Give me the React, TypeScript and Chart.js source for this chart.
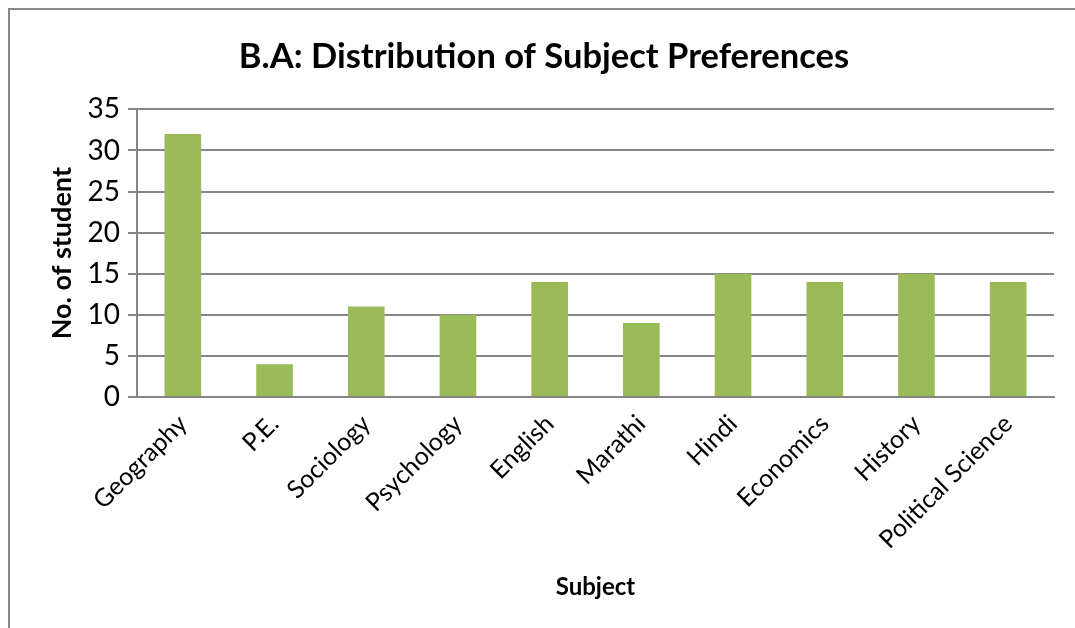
import React, { useEffect, useRef } from "react";
import { Chart, registerables } from "chart.js";

Chart.register(...registerables);

const categories = ["Geography", "P.E.", "Sociology", "Psychology", "English", "Marathi", "Hindi", "Economics", "History", "Political Science"];
const students = [32, 4, 11, 10, 14, 9, 15, 14, 15, 14];
const yTicks = [0, 5, 10, 15, 20, 25, 30, 35];

const chartTitle = "B.A: Distribution of Subject Preferences";
const xTitle = "Subject";
const yTitle = "No. of student";

const FONT = "Lato, 'Open Sans', sans-serif";

export default function App() {
  const canvasRef = useRef<HTMLCanvasElement | null>(null);

  useEffect(() => {
    if (!canvasRef.current) return;
    const chart = new Chart(canvasRef.current, {
      type: "bar",
      data: {
        labels: categories,
        datasets: [
          {
            label: "No. of student",
            data: students,
            backgroundColor: "#9BBB59",
            borderWidth: 0,
            barPercentage: 0.4,
            categoryPercentage: 1,
          },
        ],
      },
      options: {
        animation: false,
        responsive: true,
        maintainAspectRatio: false,
        layout: { padding: { left: 34, right: 21, top: 0, bottom: 0 } },
        plugins: {
          legend: { display: false },
          tooltip: { enabled: false },
          title: {
            display: true,
            text: chartTitle,
            color: "#000",
            font: { family: FONT, size: 34.5, weight: "bold" },
            padding: { top: 36, bottom: 32 },
          },
        },
        scales: {
          x: {
            grid: { display: false, drawTicks: false },
            border: { display: true, color: "#868686", width: 2 },
            ticks: {
              color: "#000",
              font: { family: FONT, size: 25 },
              minRotation: 45,
              maxRotation: 45,
              autoSkip: false,
              padding: 12,
            },
            title: {
              display: true,
              text: xTitle,
              color: "#000",
              font: { family: FONT, size: 24, weight: "bold" },
              padding: { top: 0, bottom: 26 },
            },
            afterFit: (scale: any) => {
              scale.height = 231;
            },
          },
          y: {
            min: 0,
            max: 35,
            afterBuildTicks: (scale: any) => {
              scale.ticks = yTicks.map((v) => ({ value: v }));
            },
            grid: { color: "#868686", lineWidth: 2, tickLength: 9, drawTicks: true },
            border: { display: true, color: "#868686", width: 2 },
            ticks: {
              color: "#000",
              font: { family: FONT, size: 28 },
              padding: 8,
            },
            title: {
              display: true,
              text: yTitle,
              color: "#000",
              font: { family: FONT, size: 27, weight: "bold" },
              padding: { top: 12, bottom: 0 },
            },
            afterFit: (scale: any) => {
              scale.width = 103;
            },
          },
        },
      },
    });
    return () => chart.destroy();
  }, []);

  return (
    <>
      <div
        style={{
          position: "fixed",
          left: 8,
          top: 8,
          width: 1200,
          height: 800,
          border: "2px solid #878787",
          boxSizing: "border-box",
        }}
      />
      <div style={{ position: "fixed", left: 0, top: 0, width: 1075, height: 628 }}>
        <canvas ref={canvasRef} />
      </div>
    </>
  );
}
